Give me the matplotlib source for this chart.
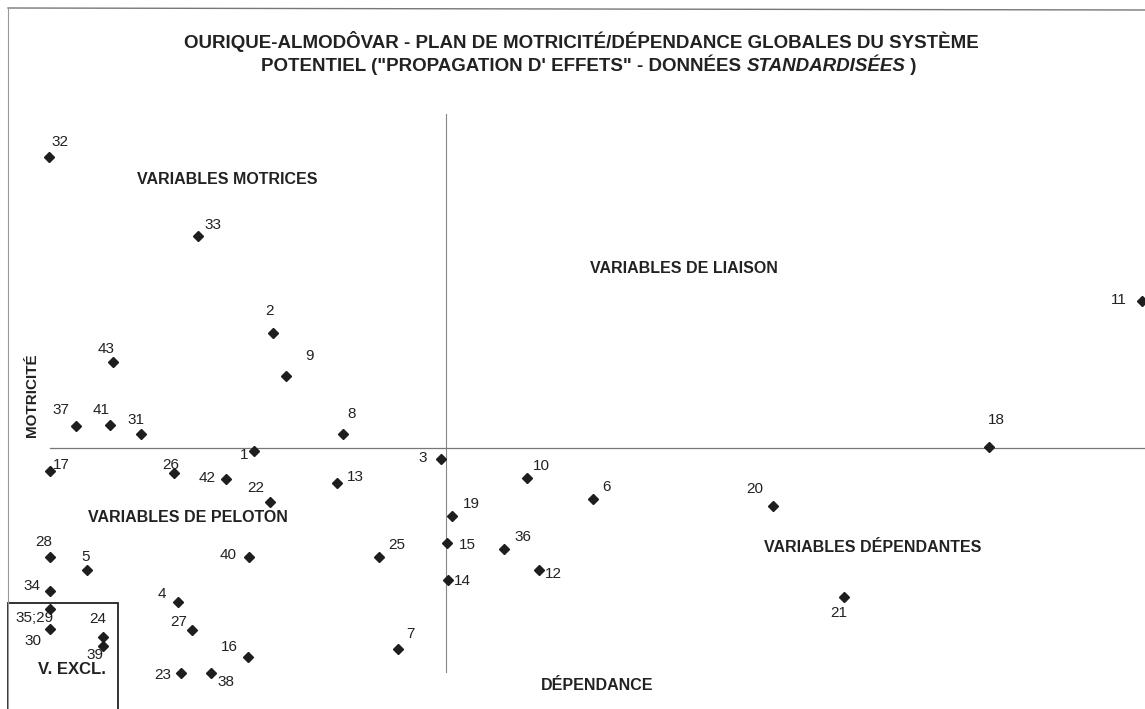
import matplotlib
matplotlib.use("Agg")
import matplotlib.pyplot as plt
from matplotlib.lines import Line2D
from matplotlib.patches import Rectangle

plt.rcParams['font.family'] = ['Liberation Sans', 'DejaVu Sans']

# Variables (labels), dependence (x) and motricity (y), standardized units
labels = ['32', '33', '2', '43', '9', '37', '41', '31', '8', '1', '17', '26', '42', '22',
          '13', '3', '10', '6', '19', '20', '15', '36', '25', '12', '14', '21', '7', '18',
          '11', '28', '5', '40', '34', '4', '35;29', '30', '24', '39', '27', '16', '23', '38']
dependance = [-3.97, -2.48, -1.73, -3.33, -1.60, -3.70, -3.36, -3.05, -1.03, -1.92, -3.96,
              -2.72, -2.20, -1.76, -1.09, -0.05, 0.81, 1.47, 0.06, 3.27, 0.01, 0.58, -0.67,
              0.93, 0.02, 3.98, -0.48, 5.43, 6.96, -3.96, -3.59, -1.97, -3.96, -2.68, -3.96,
              -3.96, -3.43, -3.43, -2.54, -1.98, -2.65, -2.35]
motricite = [2.91, 2.12, 1.15, 0.86, 0.72, 0.22, 0.23, 0.14, 0.14, -0.03, -0.23, -0.25,
             -0.31, -0.54, -0.35, -0.11, -0.30, -0.51, -0.68, -0.58, -0.95, -1.01, -1.09,
             -1.22, -1.32, -1.49, -2.01, 0.01, 1.47, -1.09, -1.22, -1.09, -1.43, -1.54,
             -1.61, -1.81, -1.89, -1.98, -1.82, -2.09, -2.25, -2.25]
# label offsets in pixels (dx, dy up)
label_offsets = [(11, 15), (15, 11), (-3, 22), (-7, 13), (23, 20), (-15, 16), (-9, 15),
                 (-5, 14), (9, 20), (-10, -4), (11, 6), (-3, 8), (-19, 1), (-14, 14),
                 (18, 6), (-18, 1), (14, 12), (13, 12), (19, 12), (-18, 17), (20, -2),
                 (19, 12), (18, 12), (14, -4), (14, -1), (-5, -16), (12, 15), (7, 27),
                 (-23, 1), (-6, 15), (-1, 13), (-21, 2), (-18, 5), (-16, 8), (-15, -9),
                 (-17, -12), (-5, 18), (-8, -9), (-13, 8), (-19, 10), (-18, -2), (15, -9)]

title1 = "OURIQUE-ALMODÔVAR - PLAN DE MOTRICITÉ/DÉPENDANCE GLOBALES DU SYSTÈME"
title2a = "POTENTIEL (\"PROPAGATION D' EFFETS\" - DONNÉES "
title2b = "STANDARDISÉES"
title2c = " )"

W, H = 1145, 709
fig = plt.figure(figsize=(W / 100, H / 100), dpi=100)
ax = fig.add_axes([0, 0, 1, 1])
ax.set_xlim(-4.46, 6.99)
ax.set_ylim(-2.61, 4.48)
ax.axis('off')

def fx(px):
    return px / W

def fy(py):
    return 1 - py / H

txt = '#222222'

# quadrant lines
ax.plot([0, 0], [3.34, -2.24], color='#888888', lw=0.8, zorder=1)
ax.plot([-3.96, 7.0], [0, 0], color='#777777', lw=0.9, zorder=1)

# page frame
fig.add_artist(Line2D([fx(8), fx(1145)], [fy(8), fy(10)], color='#777777', lw=1.0))
fig.add_artist(Line2D([fx(8), fx(8)], [fy(8), fy(709)], color='#999999', lw=0.8))

# V. EXCL. box
fig.add_artist(Rectangle((fx(8), fy(712)), fx(118) - fx(8), fy(603) - fy(712),
                         fill=False, edgecolor='#222222', lw=1.3, transform=fig.transFigure))

ax.plot(dependance, motricite, linestyle='none', marker='D', ms=5.5,
        color='#1e1e1e', zorder=3, clip_on=False)
for lab, x, y, (dx, dy) in zip(labels, dependance, motricite, label_offsets):
    ax.annotate(lab, (x, y), xytext=(dx, dy), textcoords='offset pixels',
                ha='center', va='center', fontsize=11, color=txt, zorder=4)

# titles
TS = 13.5
fig.text(fx(581), fy(42), title1, ha='center', va='center', fontsize=TS,
         fontweight='bold', color=txt)
fig.canvas.draw()
r = fig.canvas.get_renderer()
parts = []
for s, st in [(title2a, 'normal'), (title2b, 'italic'), (title2c, 'normal')]:
    parts.append(fig.text(0, fy(71), s, ha='left', va='baseline', fontsize=TS,
                          fontweight='bold', fontstyle=st, color=txt))
widths = [p.get_window_extent(r).width for p in parts]
x0 = 589 - sum(widths) / 2
for p, w in zip(parts, widths):
    p.set_x(fx(x0))
    x0 += w

quad = dict(fontsize=11.5, fontweight='bold', color=txt, va='center', ha='center')
fig.text(fx(227), fy(180), "VARIABLES MOTRICES", **quad)
fig.text(fx(684), fy(268), "VARIABLES DE LIAISON", **quad)
fig.text(fx(188), fy(517), "VARIABLES DE PELOTON", **quad)
fig.text(fx(873), fy(548), "VARIABLES DÉPENDANTES", **quad)
fig.text(fx(597), fy(686), "DÉPENDANCE", **quad)
fig.text(fx(72), fy(670), "V. EXCL.", fontsize=12, fontweight='bold', color=txt,
         va='center', ha='center')
fig.text(fx(32), fy(395), "MOTRICITÉ", rotation=90, fontsize=11, fontweight='bold',
         color=txt, va='center', ha='center')

fig.savefig('out.png', dpi=100, facecolor='white')
